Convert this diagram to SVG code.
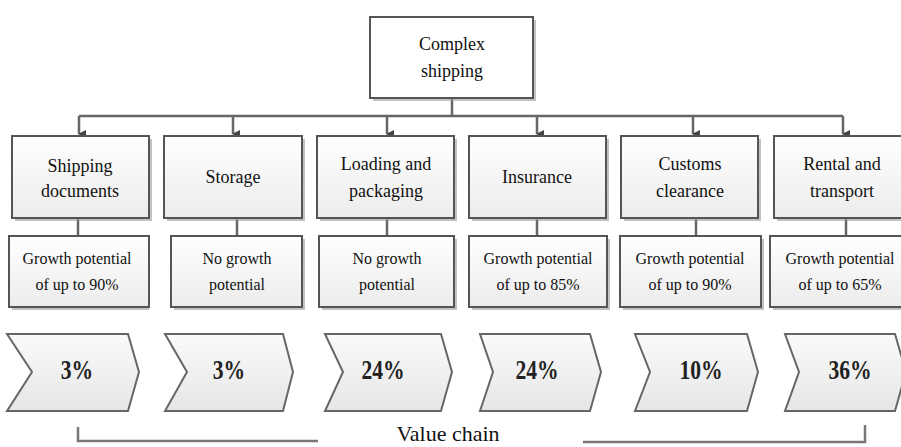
<svg xmlns="http://www.w3.org/2000/svg" width="901" height="447" viewBox="0 0 901 447">
<defs>
<style>
.box{stroke:#555;stroke-width:2;fill:url(#g)}
.top{stroke:#555;stroke-width:2;fill:#fff}
.sh{fill:#999;opacity:0.6}
.chev{stroke:#666;stroke-width:2;fill:url(#g2)}
.t{font-family:"Liberation Serif","Times New Roman",serif;font-size:18px;fill:#111;text-anchor:middle}
.s{font-family:"Liberation Serif","Times New Roman",serif;font-size:16px;fill:#111;text-anchor:middle}
.p{font-family:"Liberation Serif","Times New Roman",serif;font-size:27px;font-weight:bold;fill:#222;text-anchor:middle}
.ln{stroke:#666;stroke-width:2.5;fill:none}
.br{stroke:#777;stroke-width:2.5;fill:none}
</style>
<linearGradient id="g" x1="0" y1="0" x2="0" y2="1"><stop offset="0" stop-color="#ffffff"/><stop offset="1" stop-color="#ececec"/></linearGradient>
<linearGradient id="g2" x1="0" y1="0" x2="0" y2="1"><stop offset="0" stop-color="#fafafa"/><stop offset="1" stop-color="#e6e6e6"/></linearGradient>
<marker id="a" markerWidth="8" markerHeight="8" refX="4" refY="7" orient="auto" markerUnits="userSpaceOnUse"><path d="M0,0 L8,0 L4,8 Z" fill="#444"/></marker>
</defs>
<rect width="901" height="447" fill="#fff"/>

<g id="connectors">
<path class="ln" d="M452,98 V116"/>
<path class="ln" d="M79,116 H843"/>
<path class="ln" d="M79,116 V134" marker-end="url(#a)"/>
<path class="ln" d="M233,116 V134" marker-end="url(#a)"/>
<path class="ln" d="M387,116 V134" marker-end="url(#a)"/>
<path class="ln" d="M537,116 V134" marker-end="url(#a)"/>
<path class="ln" d="M693,116 V134" marker-end="url(#a)"/>
<path class="ln" d="M843,116 V134" marker-end="url(#a)"/>
<path class="ln" d="M78,218 V236"/>
<path class="ln" d="M237,218 V236"/>
<path class="ln" d="M387,218 V236"/>
<path class="ln" d="M537,218 V236"/>
<path class="ln" d="M696,218 V236"/>
<path class="ln" d="M846,218 V236"/>
<path class="br" d="M78,427 V441 H318"/>
<path class="br" d="M583,442 H865 V425"/>
</g>

<g id="complex-shipping">
<rect class="sh" x="373" y="20" width="163" height="81"/>
<rect class="top" x="370" y="17" width="163" height="81"/>
<text class="t" x="452" y="50">Complex</text>
<text class="t" x="452" y="77">shipping</text>
</g>

<g id="shipping-documents">
<rect class="sh" x="15" y="139" width="137" height="82"/>
<rect class="box" x="12" y="136" width="137" height="82"/>
<text class="t" x="80" y="172">Shipping</text>
<text class="t" x="80" y="197">documents</text>
</g>
<g id="storage">
<rect class="sh" x="167" y="139" width="138" height="82"/>
<rect class="box" x="164" y="136" width="138" height="82"/>
<text class="t" x="233" y="183">Storage</text>
</g>
<g id="loading-packaging">
<rect class="sh" x="320" y="139" width="137" height="82"/>
<rect class="box" x="317" y="136" width="137" height="82"/>
<text class="t" x="386" y="170">Loading and</text>
<text class="t" x="386" y="197">packaging</text>
</g>
<g id="insurance">
<rect class="sh" x="472" y="139" width="137" height="82"/>
<rect class="box" x="469" y="136" width="137" height="82"/>
<text class="t" x="537" y="183">Insurance</text>
</g>
<g id="customs-clearance">
<rect class="sh" x="624" y="139" width="137" height="82"/>
<rect class="box" x="621" y="136" width="137" height="82"/>
<text class="t" x="690" y="170">Customs</text>
<text class="t" x="690" y="197">clearance</text>
</g>
<g id="rental-transport">
<rect class="sh" x="777" y="139" width="137" height="82"/>
<rect class="box" x="774" y="136" width="137" height="82"/>
<text class="t" x="842" y="170">Rental and</text>
<text class="t" x="842" y="197">transport</text>
</g>

<g id="gp1">
<rect class="sh" x="12" y="239" width="137" height="71"/>
<rect class="box" x="9" y="236" width="140" height="71"/>
<text class="s" x="77" y="264">Growth potential</text>
<text class="s" x="77" y="290">of up to 90%</text>
</g>
<g id="gp2">
<rect class="sh" x="174" y="239" width="131" height="71"/>
<rect class="box" x="171" y="236" width="131" height="71"/>
<text class="s" x="237" y="264">No growth</text>
<text class="s" x="237" y="290">potential</text>
</g>
<g id="gp3">
<rect class="sh" x="322" y="239" width="135" height="71"/>
<rect class="box" x="319" y="236" width="135" height="71"/>
<text class="s" x="387" y="264">No growth</text>
<text class="s" x="387" y="290">potential</text>
</g>
<g id="gp4">
<rect class="sh" x="472" y="239" width="138" height="71"/>
<rect class="box" x="469" y="236" width="138" height="71"/>
<text class="s" x="538" y="264">Growth potential</text>
<text class="s" x="538" y="290">of up to 85%</text>
</g>
<g id="gp5">
<rect class="sh" x="623" y="239" width="141" height="71"/>
<rect class="box" x="620" y="236" width="141" height="71"/>
<text class="s" x="690" y="264">Growth potential</text>
<text class="s" x="690" y="290">of up to 90%</text>
</g>
<g id="gp6">
<rect class="sh" x="773" y="239" width="140" height="71"/>
<rect class="box" x="770" y="236" width="140" height="71"/>
<text class="s" x="840" y="264">Growth potential</text>
<text class="s" x="840" y="290">of up to 65%</text>
</g>

<g id="chev1">
<path class="chev" d="M7,334 H128 L139,372 L128,411 H7 L32,372 Z"/>
<text class="p" transform="translate(77,379) scale(0.8,1)">3%</text>
</g>
<g id="chev2">
<path class="chev" d="M165,334 H283 L293,372 L283,411 H165 L187,372 Z"/>
<text class="p" transform="translate(229,379) scale(0.8,1)">3%</text>
</g>
<g id="chev3">
<path class="chev" d="M325,334 H441 L452,372 L441,411 H325 L343,372 Z"/>
<text class="p" transform="translate(383,379) scale(0.8,1)">24%</text>
</g>
<g id="chev4">
<path class="chev" d="M480,334 H590 L601,372 L590,411 H480 L493,372 Z"/>
<text class="p" transform="translate(537,379) scale(0.8,1)">24%</text>
</g>
<g id="chev5">
<path class="chev" d="M635,334 H747 L758,372 L747,411 H635 L650,372 Z"/>
<text class="p" transform="translate(701,379) scale(0.8,1)">10%</text>
</g>
<g id="chev6">
<path class="chev" d="M785,334 H895 L906,372 L895,411 H785 L799,372 Z"/>
<text class="p" transform="translate(850,379) scale(0.8,1)">36%</text>
</g>

<text x="448" y="441" style="font-family:'Liberation Serif','Times New Roman',serif;font-size:22px;fill:#111;text-anchor:middle">Value chain</text>
</svg>
